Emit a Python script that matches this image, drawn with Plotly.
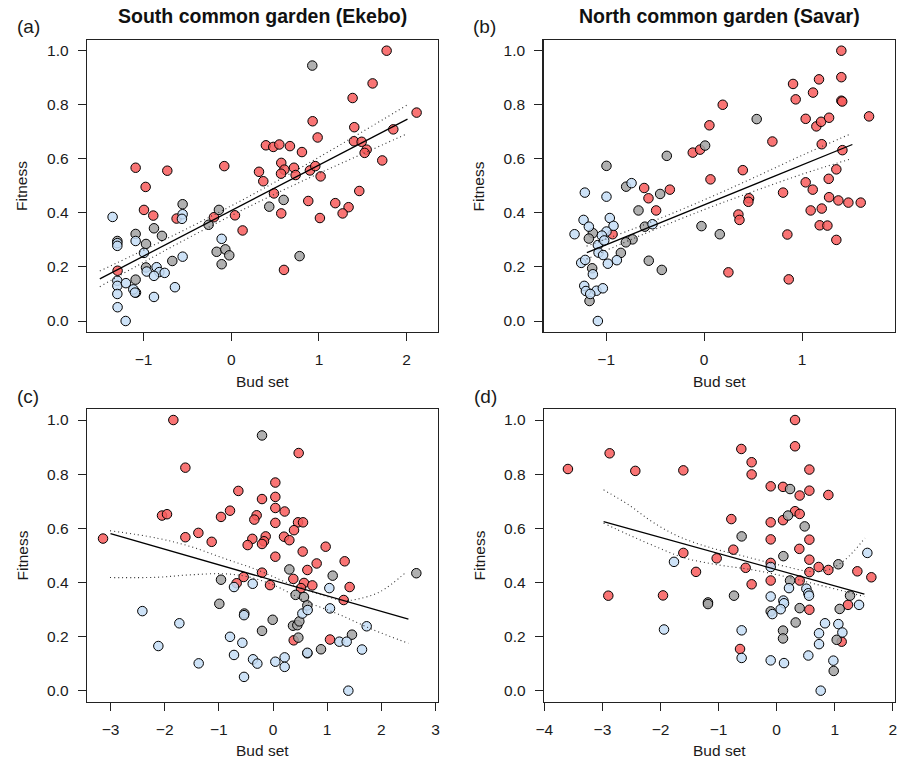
import plotly.graph_objects as go

# ---------------- data ----------------
# Panel (a) South common garden (Ekebo) — Fitness vs Bud set
a_red_x = [1.772, 1.612, 1.384, 2.114, 1.848, 0.928, 1.403, 0.985, 1.399, 1.487, 1.544, 1.521, 0.395, 0.479, 0.548, 0.669, 0.806, 1.722, -0.080, -1.091, -0.730, -0.977, 0.570, 0.605, 0.715, 0.734, 0.567, 0.897, 0.958, 1.019, 0.316, 0.365, 0.487, 1.460, 0.878, 1.186, 1.338, 1.270, 1.011, 0.570, 0.601, -0.996, -0.890, -0.624, -0.198, 0.042, 0.129, -1.297]
a_red_y = [1.000, 0.879, 0.825, 0.771, 0.709, 0.739, 0.717, 0.679, 0.665, 0.663, 0.634, 0.622, 0.650, 0.644, 0.653, 0.647, 0.625, 0.594, 0.573, 0.567, 0.556, 0.496, 0.585, 0.560, 0.567, 0.540, 0.545, 0.557, 0.573, 0.535, 0.552, 0.517, 0.472, 0.481, 0.444, 0.436, 0.421, 0.398, 0.381, 0.398, 0.189, 0.411, 0.390, 0.379, 0.384, 0.391, 0.335, 0.186]
a_gray_x = [0.924, 0.433, 0.597, 0.779, -0.141, -0.259, -0.555, -0.882, -0.791, -1.091, -0.973, -1.300, -0.673, -0.167, -0.068, -0.023, -0.110, -1.091, -0.973, -1.087]
a_gray_y = [0.945, 0.423, 0.448, 0.240, 0.411, 0.356, 0.432, 0.343, 0.315, 0.322, 0.285, 0.296, 0.222, 0.256, 0.265, 0.243, 0.210, 0.153, 0.198, 0.105]
a_blue_x = [-1.354, -0.555, -0.563, -1.091, -0.996, -0.110, -0.555, -0.852, -0.965, -0.821, -0.760, -0.882, -1.300, -1.300, -1.202, -1.300, -1.118, -1.099, -0.643, -0.882, -1.297, -1.205, -1.300, -1.300]
a_blue_y = [0.385, 0.395, 0.378, 0.296, 0.252, 0.304, 0.238, 0.199, 0.183, 0.181, 0.178, 0.167, 0.149, 0.130, 0.140, 0.100, 0.117, 0.105, 0.125, 0.089, 0.051, 0.000, 0.288, 0.278]
a_fit_x = [-1.50, 2.01]
a_fit_y = [0.156, 0.747]
a_band_x = [-1.5, -0.75, 0.0, 0.5, 1.0, 1.5, 2.0]
a_upper_y = [0.185, 0.302, 0.426, 0.514, 0.606, 0.701, 0.798]
a_lower_y = [0.127, 0.262, 0.390, 0.470, 0.546, 0.619, 0.692]

# Panel (b) North common garden (Savar)
b_red_x = [1.401, 1.401, 1.401, 1.410, 0.908, 0.935, 1.173, 1.112, 1.037, 1.146, 1.194, 1.276, 1.684, 1.201, 1.412, 0.190, 0.054, 0.697, -0.116, -0.041, 0.065, 0.395, 1.350, 1.272, 1.037, 1.109, 0.806, -0.612, -0.350, -0.568, -0.490, -0.935, 0.459, 0.452, 0.350, 0.361, 0.248, 0.850, 0.864, 1.276, 1.371, 1.473, 1.599, 1.088, 1.201, 1.180, 1.259, 1.350]
b_red_y = [1.000, 0.902, 0.815, 0.812, 0.877, 0.820, 0.894, 0.845, 0.748, 0.720, 0.737, 0.752, 0.757, 0.654, 0.632, 0.800, 0.724, 0.664, 0.623, 0.634, 0.524, 0.558, 0.561, 0.526, 0.513, 0.486, 0.475, 0.492, 0.486, 0.454, 0.409, 0.321, 0.454, 0.441, 0.394, 0.374, 0.180, 0.320, 0.154, 0.458, 0.446, 0.438, 0.438, 0.409, 0.416, 0.354, 0.353, 0.300]
b_gray_x = [0.537, 0.010, -0.381, -0.997, -0.796, -0.449, -0.670, -0.605, -0.027, 0.160, -1.136, -1.177, -0.731, -0.799, -0.850, -0.565, -0.432, -1.143, -1.170]
b_gray_y = [0.747, 0.649, 0.611, 0.574, 0.497, 0.470, 0.409, 0.349, 0.351, 0.321, 0.325, 0.305, 0.302, 0.291, 0.252, 0.223, 0.189, 0.195, 0.074]
b_blue_x = [-1.218, -0.741, -0.997, -1.323, -1.231, -1.177, -0.963, -0.925, -0.997, -1.044, -0.527, -1.085, -1.078, -1.031, -0.891, -0.983, -1.255, -1.214, -1.136, -1.224, -1.207, -1.099, -1.034, -1.163, -1.085, -1.020]
b_blue_y = [0.475, 0.510, 0.460, 0.321, 0.374, 0.349, 0.381, 0.352, 0.331, 0.316, 0.358, 0.281, 0.253, 0.244, 0.225, 0.212, 0.215, 0.226, 0.173, 0.130, 0.111, 0.112, 0.121, 0.100, 0.000, 0.298]
b_fit_x = [-1.197, 1.514]
b_fit_y = [0.253, 0.653]
b_band_x = [-1.2, -0.6, 0.0, 0.5, 1.0, 1.5]
b_upper_y = [0.277, 0.358, 0.448, 0.529, 0.613, 0.693]
b_lower_y = [0.229, 0.324, 0.412, 0.479, 0.543, 0.600]

# Panel (c)
c_red_x = [-1.840, -1.618, -2.049, -1.957, -3.138, -1.618, -1.378, -1.132, -0.960, -0.794, -0.640, -0.203, 0.043, 0.043, 0.043, 0.043, 0.215, 0.474, -0.302, -0.345, 0.462, 0.554, 0.388, 0.203, 0.302, -0.135, -0.166, -0.203, -0.382, -0.468, 0.972, 0.548, 0.043, 1.323, 0.806, 0.634, -0.203, 0.375, -0.542, -0.671, 0.572, 0.517, 0.726, -0.055, 1.415, 1.305, 0.382, 1.052]
c_red_y = [1.000, 0.824, 0.647, 0.652, 0.562, 0.567, 0.583, 0.550, 0.642, 0.665, 0.738, 0.708, 0.769, 0.716, 0.675, 0.620, 0.662, 0.878, 0.648, 0.632, 0.622, 0.622, 0.593, 0.569, 0.556, 0.570, 0.552, 0.542, 0.561, 0.538, 0.532, 0.514, 0.495, 0.478, 0.470, 0.446, 0.436, 0.413, 0.420, 0.397, 0.398, 0.379, 0.389, 0.390, 0.383, 0.335, 0.186, 0.189]
c_gray_x = [-0.203, 0.302, 1.102, 2.646, -0.960, -0.991, 0.418, 0.572, 0.634, -0.006, -0.203, -0.529, 0.369, 0.449, 0.486, 0.468, 0.634, 0.886, 1.458]
c_gray_y = [0.943, 0.448, 0.425, 0.434, 0.410, 0.321, 0.354, 0.346, 0.315, 0.262, 0.221, 0.285, 0.240, 0.242, 0.256, 0.196, 0.138, 0.153, 0.207]
c_blue_x = [-2.412, -1.729, -2.117, -1.372, -0.720, -0.375, -0.535, -0.794, -0.566, -0.720, -0.369, -0.289, -0.535, 0.043, 0.215, 0.215, 0.542, 0.640, 0.634, 1.040, 1.052, 1.225, 1.360, 1.729, 1.643, 1.391]
c_blue_y = [0.294, 0.249, 0.165, 0.101, 0.383, 0.395, 0.279, 0.199, 0.177, 0.132, 0.116, 0.100, 0.051, 0.107, 0.123, 0.088, 0.285, 0.298, 0.140, 0.379, 0.304, 0.181, 0.181, 0.238, 0.152, 0.000]
c_fit_x = [-3.00, 2.50]
c_fit_y = [0.580, 0.264]
c_upper_x = [-3.01, -2.15, -1.53, -0.92, -0.30, 0.31, 0.93, 1.30, 1.55, 1.98, 2.47]
c_upper_y = [0.591, 0.564, 0.533, 0.490, 0.447, 0.395, 0.352, 0.333, 0.338, 0.366, 0.440]
c_lower_x = [-3.01, -2.15, -1.53, -0.92, -0.49, 0.00, 0.62, 1.24, 1.85, 2.50]
c_lower_y = [0.418, 0.419, 0.428, 0.432, 0.422, 0.391, 0.329, 0.280, 0.225, 0.175]

# Panel (d)
d_red_x = [0.316, 0.316, -3.594, -2.876, -2.434, -1.607, -0.609, -0.431, -0.431, -0.103, 0.109, 0.563, 0.563, 0.396, 0.890, -0.781, -0.103, 0.109, 0.316, 0.396, -0.103, 0.563, 0.390, 0.563, -0.746, -1.607, -1.033, -0.534, 0.723, 0.890, 0.563, 1.389, 1.630, -1.389, -0.103, -2.899, -1.957, -0.431, -0.103, 0.396, 0.563, 1.228, -0.631, 1.119]
d_red_y = [1.000, 0.903, 0.819, 0.877, 0.812, 0.814, 0.893, 0.844, 0.799, 0.755, 0.753, 0.817, 0.739, 0.721, 0.723, 0.634, 0.622, 0.630, 0.663, 0.653, 0.559, 0.558, 0.524, 0.484, 0.521, 0.509, 0.489, 0.454, 0.457, 0.446, 0.438, 0.441, 0.419, 0.439, 0.472, 0.351, 0.352, 0.393, 0.407, 0.407, 0.299, 0.317, 0.154, 0.181]
d_gray_x = [0.230, 0.195, 0.482, -0.603, 0.115, 1.062, 0.230, 1.263, -1.183, -1.183, -0.735, 0.396, 1.085, -0.103, 0.327, 0.109, 0.109, 1.033, 0.982]
d_gray_y = [0.745, 0.647, 0.607, 0.570, 0.497, 0.467, 0.407, 0.351, 0.326, 0.320, 0.351, 0.305, 0.302, 0.293, 0.252, 0.222, 0.193, 0.188, 0.073]
d_blue_x = [-1.768, 1.561, -0.103, 0.212, 0.511, 0.545, 0.557, -0.103, 0.115, 0.126, 0.069, -0.075, 1.418, -0.603, -1.940, -0.603, -0.103, 0.126, 0.832, 0.729, 0.729, 1.062, 1.131, 0.545, 0.976, 0.758]
d_blue_y = [0.476, 0.509, 0.457, 0.379, 0.377, 0.360, 0.351, 0.348, 0.333, 0.323, 0.301, 0.283, 0.317, 0.223, 0.226, 0.121, 0.112, 0.102, 0.249, 0.212, 0.172, 0.246, 0.215, 0.130, 0.111, 0.000]
d_fit_x = [-2.98, 1.51]
d_fit_y = [0.625, 0.357]
d_upper_x = [-2.98, -2.55, -2.15, -1.69, -1.12, -0.55, 0.03, 0.60, 0.89, 1.18, 1.52]
d_upper_y = [0.742, 0.687, 0.625, 0.570, 0.527, 0.496, 0.465, 0.440, 0.447, 0.484, 0.564]
d_lower_x = [-2.98, -2.55, -2.09, -1.58, -1.01, -0.43, 0.14, 0.72, 1.18, 1.51]
d_lower_y = [0.619, 0.576, 0.533, 0.490, 0.465, 0.447, 0.422, 0.391, 0.366, 0.348]

titles = ["South common garden (Ekebo)", "North common garden (Savar)"]
panel_labels = ["(a)", "(b)", "(c)", "(d)"]
x_title = "Bud set"
y_title = "Fitness"

# ---------------- style ----------------
W, H = 908, 770
FONT = "Liberation Sans, Arial, Helvetica, sans-serif"
RED = "rgba(248,92,92,0.85)"
GRAY = "rgba(162,162,162,0.85)"
BLUE = "rgba(196,221,246,0.85)"

# pixel boxes of the four plotting regions (left, right, top, bottom)
boxes = [(87, 438, 40, 332), (543.5, 895, 40, 332), (87, 438, 409.3, 701.7), (544, 894.7, 409.3, 701.7)]
xranges = [[-1.646, 2.358], [-1.640, 1.949], [-3.434, 3.046], [-4.006, 2.032]]
xticks = [[-1, 0, 1, 2], [-1, 0, 1], [-3, -2, -1, 0, 1, 2, 3], [-4, -3, -2, -1, 0, 1, 2]]
yrange = [-0.0407, 1.0396]
yticks = [0.0, 0.2, 0.4, 0.6, 0.8, 1.0]


def px(x):
    return x / W


def py(y):
    return 1 - y / H


panels = [
    (a_red_x, a_red_y, a_gray_x, a_gray_y, a_blue_x, a_blue_y, a_fit_x, a_fit_y, a_band_x, a_upper_y, a_band_x, a_lower_y),
    (b_red_x, b_red_y, b_gray_x, b_gray_y, b_blue_x, b_blue_y, b_fit_x, b_fit_y, b_band_x, b_upper_y, b_band_x, b_lower_y),
    (c_red_x, c_red_y, c_gray_x, c_gray_y, c_blue_x, c_blue_y, c_fit_x, c_fit_y, c_upper_x, c_upper_y, c_lower_x, c_lower_y),
    (d_red_x, d_red_y, d_gray_x, d_gray_y, d_blue_x, d_blue_y, d_fit_x, d_fit_y, d_upper_x, d_upper_y, d_lower_x, d_lower_y),
]

fig = go.Figure()
layout = dict(
    template="none",
    width=W, height=H, margin=dict(l=0, r=0, t=0, b=0, pad=0, autoexpand=False),
    paper_bgcolor="white", plot_bgcolor="white", showlegend=False,
    font=dict(family=FONT, color="#1a1a1a"),
)
annotations = []

for i, p in enumerate(panels):
    rx, ry, gx, gy, bx, by, fx, fy, ux, uy, lx, ly = p
    n = "" if i == 0 else str(i + 1)
    xa, ya = "x" + n, "y" + n
    for (xs, ys, col) in [(rx, ry, RED), (gx, gy, GRAY), (bx, by, BLUE)]:
        fig.add_trace(go.Scatter(x=xs, y=ys, mode="markers", xaxis=xa, yaxis=ya,
                                 marker=dict(size=9.5, color=col, line=dict(color="black", width=1)),
                                 hoverinfo="skip"))
    for (xs, ys) in [(ux, uy), (lx, ly)]:
        fig.add_trace(go.Scatter(x=xs, y=ys, mode="lines", xaxis=xa, yaxis=ya,
                                 line=dict(color="#333333", width=1.1, dash="1px,3px", shape="spline"),
                                 hoverinfo="skip"))
    fig.add_trace(go.Scatter(x=fx, y=fy, mode="lines", xaxis=xa, yaxis=ya,
                             line=dict(color="black", width=1.3), hoverinfo="skip"))

    l, r, t, b = boxes[i]
    common = dict(showgrid=False, zeroline=False, showline=True, mirror=True, automargin=False,
                  linecolor="#222222", linewidth=1.3, ticks="outside", ticklen=8,
                  tickwidth=1, tickcolor="#222222",
                  tickfont=dict(family=FONT, size=15.5, color="#1a1a1a"))
    layout["xaxis" + n] = dict(common, domain=[px(l), px(r)], range=xranges[i],
                               tickvals=xticks[i], anchor=ya, ticklabelstandoff=5)
    layout["yaxis" + n] = dict(common, domain=[py(b), py(t)], range=yrange,
                               tickvals=yticks, tickformat=".1f", anchor=xa, ticklabelstandoff=6)
    cx = (l + r) / 2
    cy = (t + b) / 2
    annotations.append(dict(text=x_title, x=px(cx), y=py(b + 49), xref="paper", yref="paper",
                            showarrow=False, xanchor="center", yanchor="middle",
                            font=dict(family=FONT, size=15.5, color="#1a1a1a")))
    annotations.append(dict(text=y_title, x=px(l - 65), y=py(cy), xref="paper", yref="paper",
                            showarrow=False, xanchor="center", yanchor="middle", textangle=-90,
                            font=dict(family=FONT, size=15.5, color="#1a1a1a")))
    annotations.append(dict(text=panel_labels[i], x=px(l - 59), y=py(t - 13), xref="paper", yref="paper",
                            showarrow=False, xanchor="center", yanchor="middle",
                            font=dict(family=FONT, size=19, color="#1a1a1a")))
    if i < 2:
        annotations.append(dict(text="<b>" + titles[i] + "</b>", x=px(cx), y=py(16),
                                xref="paper", yref="paper", showarrow=False,
                                xanchor="center", yanchor="middle",
                                font=dict(family=FONT, size=19.5, color="#111111")))

layout["annotations"] = annotations
fig.update_layout(**layout)
fig.write_html("out.html",
               config={"displayModeBar": False, "staticPlot": True},
               post_script="document.body.style.margin='0';document.body.style.padding='0';"
                           "document.body.style.overflow='hidden';")
